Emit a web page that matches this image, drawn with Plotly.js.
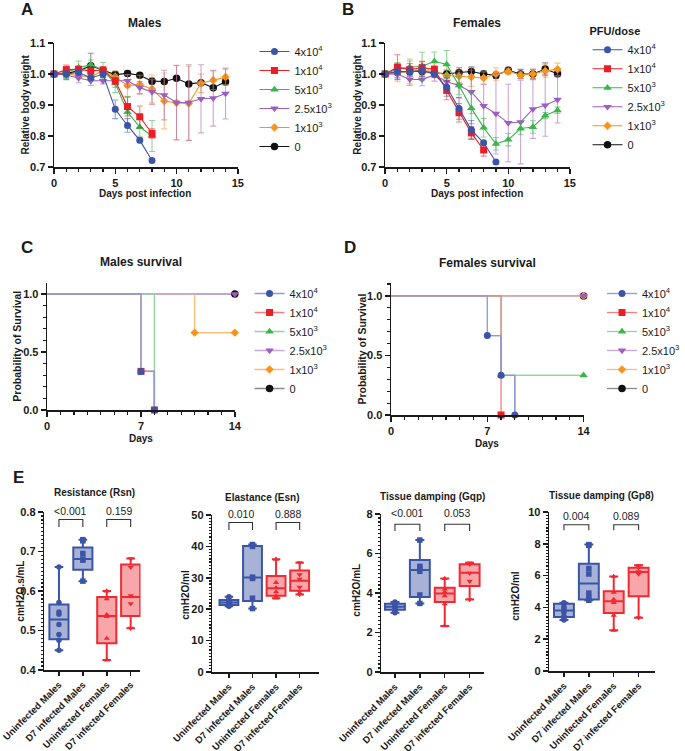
<!DOCTYPE html>
<html>
<head>
<meta charset="utf-8">
<script src="https://cdn.plot.ly/plotly-3.0.1.min.js"></script>
<style>html,body{margin:0;padding:0;background:#fff;}#chart{width:685px;height:751px;}</style>
</head>
<body>
<div id="chart"></div>
<script>
// ---------------- DATA ----------------
const days = [0,1,2,3,4,5,6,7,8,9,10,11,12,13,14];
const doseLabels = ['4x10<sup>4</sup>','1x10<sup>4</sup>','5x10<sup>3</sup>','2.5x10<sup>3</sup>','1x10<sup>3</sup>','0'];

// Panel A – males relative body weight (mean, SD)
const m4e4   = [1.0,1.0,1.005,0.988,0.999,0.886,0.834,0.786,0.721];
const m4e4sd = [0,0.01,0.01,0.01,0.01,0.03,0.022,0.008,0.005];
const m1e4   = [1.0,1.014,1.015,1.01,1.013,0.978,0.895,0.862,0.808];
const m1e4sd = [0,0.015,0.01,0.01,0.005,0.01,0.03,0.035,0.015];
const m5e3   = [1.0,1.005,1.02,1.03,1.012,0.97,0.877,0.829,0.80];
const m5e3sd = [0,0.02,0.022,0.015,0.025,0.03,0.05,0.03,0.05];
const m25e3  = [1.0,0.997,0.987,0.978,0.978,0.977,0.978,0.956,0.942,0.932,0.908,0.908,0.92,0.922,0.937];
const m25e3sd= [0,0.01,0.015,0.015,0.01,0.02,0.02,0.02,0.04,0.08,0.12,0.122,0.11,0.09,0.082];
const m1e3   = [1.0,1.0,0.995,0.99,1.012,0.99,0.963,0.966,0.952,0.913,0.907,0.905,0.97,0.98,0.99];
const m1e3sd = [0,0.01,0.01,0.01,0.01,0.02,0.035,0.03,0.045,0.09,0.12,0.12,0.03,0.03,0.025];
const m0     = [1.0,1.002,1.01,1.027,1.012,0.998,1.002,0.996,0.977,0.976,0.986,0.968,0.972,0.956,0.975];
const m0sd   = [0,0.02,0.015,0.04,0.01,0.01,0.008,0.008,0.01,0.005,0.005,0.005,0.005,0.005,0.01];

// Panel B – females relative body weight (mean, SD)
const f4e4   = [1.0,1.008,1.008,1.011,0.999,0.958,0.889,0.82,0.778,0.716];
const f4e4sd = [0,0.02,0.015,0.02,0.01,0.03,0.035,0.03,0.005,0.005];
const f1e4   = [1.0,1.022,1.014,1.02,1.015,0.947,0.875,0.81,0.755];
const f1e4sd = [0,0.04,0.02,0.02,0.01,0.03,0.03,0.02,0.02];
const f5e3   = [1.0,1.016,1.022,1.025,1.041,1.031,0.963,0.89,0.827,0.775,0.788,0.824,0.829,0.866,0.883];
const f5e3sd = [0,0.02,0.02,0.045,0.03,0.045,0.03,0.05,0.03,0.02,0.02,0.02,0.02,0.01,0.01];
const f25e3  = [1.0,0.999,0.983,0.982,0.997,0.975,0.963,0.942,0.897,0.872,0.842,0.845,0.887,0.899,0.917];
const f25e3sd= [0,0.015,0.02,0.02,0.02,0.02,0.04,0.07,0.07,0.13,0.125,0.135,0.095,0.1,0.075];
const f1e3   = [1.0,1.005,1.008,1.012,1.008,0.995,0.993,0.99,0.987,1.0,1.008,0.997,1.0,1.01,1.015];
const f1e3sd = [0,0.03,0.04,0.03,0.02,0.02,0.02,0.03,0.02,0.02,0.01,0.01,0.015,0.02,0.02];
const f0     = [1.0,1.006,1.008,1.008,1.005,1.0,1.005,1.008,1.0,0.996,1.012,1.0,1.0,1.016,1.001];
const f0sd   = [0,0.01,0.01,0.015,0.01,0.01,0.015,0.015,0.01,0.01,0.01,0.015,0.015,0.02,0.01];

// Panel C – males survival (step points)
const cX = [[0,7,8],[0,7,8],[0,8],[0,14],[0,11,14],[0,14]];
const cY = [[1,0.333,0],[1,0.333,0],[1,0],[1,1],[1,0.667,0.667],[1,1]];
// Panel D – females survival
const dX = [[0,7,8,9],[0,8],[0,8,14],[0,14],[0,14],[0,14]];
const dY = [[1,0.667,0.333,0],[1,0],[1,0.333,0.333],[1,1],[1,1],[1,1]];

// Panel E – lung mechanics
const groups = ['Uninfected Males','D7 infected Males','Uninfected Females','D7 infected Females'];
const rsnPoints = [[0.661,0.571,0.547,0.541,0.515,0.49,0.475,0.45],[0.730,0.727,0.695,0.681,0.678,0.625],[0.600,0.58,0.54,0.535,0.48,0.425],[0.682,0.660,0.588,0.568,0.506]];
const rsnLow = [0.45,0.625,0.425,0.506], rsnQ1 = [0.478,0.654,0.468,0.537], rsnMed = [0.528,0.681,0.537,0.585], rsnQ3 = [0.566,0.71,0.585,0.667], rsnHigh = [0.661,0.730,0.600,0.682];
const esnPoints = [[24.0,23.2,22.6,22.1,21.8,21.5,21.2,20.9],[40.6,40.0,30.2,29.8,23.5,20.2],[35.9,28.5,26.8,25.5,24.2,23.5],[34.8,31.0,29.6,27.0,25.5,24.7]];
const esnLow = [20.9,20.2,23.5,24.7], esnQ1 = [21.3,22.6,24.3,25.9], esnMed = [22.1,30.1,26.7,29.1], esnQ3 = [22.9,40.1,30.6,32.3], esnHigh = [24.0,40.6,35.9,34.8];
const gqpPoints = [[3.55,3.48,3.4,3.33,3.28,3.2,3.1,3.0],[6.68,5.35,5.25,5.1,3.9,3.47],[4.73,4.2,4.05,3.85,3.45,2.33],[5.53,5.45,5.0,4.6,3.67]];
const gqpLow = [3.0,3.47,2.33,3.67], gqpQ1 = [3.15,3.8,3.55,4.35], gqpMed = [3.3,5.16,3.97,5.02], gqpQ3 = [3.45,5.67,4.26,5.46], gqpHigh = [3.55,6.68,4.73,5.53];
const gp8Points = [[4.3,4.2,4.0,3.85,3.7,3.45,3.3,3.2],[7.95,7.9,6.45,6.1,4.9,4.6,4.45],[5.95,4.95,4.5,4.3,3.5,2.56],[6.65,6.5,6.25,6.1,3.35]];
const gp8Low = [3.2,4.45,2.56,3.35], gp8Q1 = [3.4,4.49,3.65,4.7], gp8Med = [3.8,5.5,4.38,6.23], gp8Q3 = [4.23,6.75,5.01,6.5], gp8High = [4.3,7.95,5.95,6.65];
const pvalsRsn = ['<0.001','0.159'], pvalsEsn = ['0.010','0.888'], pvalsGqp = ['<0.001','0.053'], pvalsGp8 = ['0.004','0.089'];

// ---------------- STYLE ----------------
const W = 685, H = 751;
const FONT = 'Liberation Sans, Arial, sans-serif';
const INK = '#1a1a1a';
const colors = ['#3b54a5','#ee1d25','#39b54a','#9b5fc0','#f7931e','#111111'];
const errColors = ['rgba(59,84,165,0.55)','rgba(238,29,37,0.55)','rgba(57,181,74,0.55)','rgba(155,95,192,0.55)','rgba(247,147,30,0.55)','rgba(60,60,60,0.55)'];
const lightColors = ['#8e9bd4','#f37f84','#8fd69a','#c8a6de','#f9bd78','#8a8a8a'];
const symbols = ['circle','square','triangle-up','triangle-down','diamond','circle'];
const symSize = [7,7,7.5,7.5,6.5,7.5];
const boxLine = ['#3b54a5','#3b54a5','#ef2a33','#ef2a33'];
const boxFill = ['rgba(59,84,165,0.45)','rgba(59,84,165,0.45)','rgba(239,42,51,0.42)','rgba(239,42,51,0.42)'];
const ptSym = ['circle','square','triangle-up','triangle-down'];

function dxp(a,b){return [a/W, b/W];}
function dyp(t,b){return [1-b/H, 1-t/H];}

const axBase = {showline:true, linecolor:INK, linewidth:1.5, ticks:'outside', ticklen:5, tickwidth:1.5, tickcolor:INK,
  showgrid:false, zeroline:false, fixedrange:true, tickfont:{family:FONT, size:11, weight:'bold', color:INK}};
function minor(dt, len){return {ticks:'outside', dtick:dt, ticklen:len, tickwidth:1.2, tickcolor:INK, showgrid:false};}

const traces = [];

// Weight panels
function addWeight(series, sds, xa, ya, leg){
  for (let i = series.length-1; i >= 0; i--){
    const y = series[i];
    traces.push({type:'scatter', mode:'lines+markers', x:days.slice(0,y.length), y:y,
      error_y:{type:'data', array:sds[i], visible:true, color:errColors[i], thickness:1.1, width:3},
      line:{color:colors[i], width:1.1}, marker:{symbol:symbols[i], size:symSize[i], color:colors[i]},
      name:doseLabels[i], legend:leg, legendrank:i+1, cliponaxis:false, xaxis:xa, yaxis:ya, hoverinfo:'skip'});
  }
}
addWeight([m4e4,m1e4,m5e3,m25e3,m1e3,m0],[m4e4sd,m1e4sd,m5e3sd,m25e3sd,m1e3sd,m0sd],'x','y','legend');
addWeight([f4e4,f1e4,f5e3,f25e3,f1e3,f0],[f4e4sd,f1e4sd,f5e3sd,f25e3sd,f1e3sd,f0sd],'x2','y2','legend2');

// Survival panels
function addSurv(X, Y, xa, ya, leg){
  for (let i = X.length-1; i >= 0; i--){
    traces.push({type:'scatter', mode:'lines', x:X[i], y:Y[i], line:{color:lightColors[i], width:1.3, shape:'hv'},
      showlegend:false, cliponaxis:false, xaxis:xa, yaxis:ya, hoverinfo:'skip'});
  }
  for (let i = X.length-1; i >= 0; i--){
    traces.push({type:'scatter', mode:'lines+markers', x:X[i].slice(1), y:Y[i].slice(1),
      line:{color:lightColors[i], width:1.3, shape:'hv'}, marker:{symbol:symbols[i], size:symSize[i], color:colors[i]},
      name:doseLabels[i], legend:leg, legendrank:i+1, cliponaxis:false, xaxis:xa, yaxis:ya, hoverinfo:'skip'});
  }
}
addSurv(cX, cY, 'x3', 'y3', 'legend3');
addSurv(dX, dY, 'x4', 'y4', 'legend4');

// Box panels geometry
const eX = [[45,143,60,133],[216,325,233,305],[388,493,402,478],[559,667,574,650]];
const eY = [[512,670],[515,672],[514,672],[512,671]];
const eRange = [[0.4,0.8],[0,50],[0,8],[0,10]];
const eDtick = [0.1,10,2,2], eMinor = [0.01,1,0.2,0.2], eFmt = ['.1f','d','d','d'];

const ePanels = [
  {pts:rsnPoints, low:rsnLow, q1:rsnQ1, med:rsnMed, q3:rsnQ3, high:rsnHigh, p:pvalsRsn, br:[0.762,0.781,0.803]},
  {pts:esnPoints, low:esnLow, q1:esnQ1, med:esnMed, q3:esnQ3, high:esnHigh, p:pvalsEsn, br:[45.2,47.6,50.2]},
  {pts:gqpPoints, low:gqpLow, q1:gqpQ1, med:gqpMed, q3:gqpQ3, high:gqpHigh, p:pvalsGqp, br:[7.14,7.48,8.03]},
  {pts:gp8Points, low:gp8Low, q1:gp8Q1, med:gp8Med, q3:gp8Q3, high:gp8High, p:pvalsGp8, br:[8.85,9.2,9.72]}
];
const annotations = [];
ePanels.forEach((P, k) => {
  const xa = 'x'+(k+5), ya = 'y'+(k+5);
  for (let g = 0; g < 4; g++){
    traces.push({type:'box', x:[g], q1:[P.q1[g]], median:[P.med[g]], q3:[P.q3[g]], lowerfence:[P.low[g]], upperfence:[P.high[g]],
      width:0.8, whiskerwidth:0.45, line:{color:boxLine[g], width:2}, fillcolor:boxFill[g], boxpoints:false,
      showlegend:false, xaxis:xa, yaxis:ya, hoverinfo:'skip'});
    traces.push({type:'scatter', mode:'markers', x:P.pts[g].map(() => g), y:P.pts[g],
      marker:{symbol:ptSym[g], size:5.5, color:boxLine[g]}, showlegend:false, cliponaxis:false, xaxis:xa, yaxis:ya, hoverinfo:'skip'});
  }
  // map a data value on this panel's y scale to paper coordinates (labels sit above the axis range)
  const [r0, r1] = eRange[k];
  const [d0, d1] = dyp(eY[k][0], eY[k][1]);
  const toPaper = v => d0 + (v - r0) / (r1 - r0) * (d1 - d0);
  [[0,1],[2,3]].forEach((pr, j) => {
    traces.push({type:'scatter', mode:'lines', x:[pr[0],pr[0],pr[1],pr[1]], y:[P.br[0],P.br[1],P.br[1],P.br[0]],
      line:{color:'#333', width:1.1}, showlegend:false, cliponaxis:false, xaxis:xa, yaxis:ya, hoverinfo:'skip'});
    annotations.push({text:P.p[j], x:(pr[0]+pr[1])/2, y:toPaper(P.br[2]), xref:xa, yref:'paper', showarrow:false,
      xanchor:'center', yanchor:'middle', font:{family:FONT, size:10.5, color:'#222'}});
  });
});

// ---------------- LAYOUT ----------------
function ann(text, x, y, size, bold, angle){
  annotations.push({text:text, x:x/W, y:1-y/H, xref:'paper', yref:'paper', showarrow:false, xanchor:'center', yanchor:'middle',
    textangle:angle||0, font:{family:FONT, size:size, weight:bold?'bold':'normal', color:INK}});
}
ann('A',27.5,9.5,17,true); ann('B',354,9.5,17,true); ann('C',27.5,247,17,true); ann('D',356,247,17,true); ann('E',19,477,17,true);
ann('Males',148,23,12,true); ann('Females',486,23,12,true);
ann('Males survival',143.5,262,12,true); ann('Females survival',496,263,12,true);
ann('Relative body weight',25,105,10,true,-90); ann('Days post infection',148,193,10,true);
ann('Relative body weight',363,105,10,true,-90); ann('Days post infection',486,193,10,true);
ann('Probability of Survival',17,346,10.5,true,-90); ann('Days',143.5,438,10,true);
ann('Probability of Survival',368,349,10.5,true,-90); ann('Days',496,443,10,true);
ann('Resistance (Rsn)',96,493,10,true); ann('Elastance (Esn)',267,497,10,true);
ann('Tissue damping (Gqp)',440,496,10,true); ann('Tissue damping (Gp8)',612,495,10,true);
ann('cmH2O.s/mL',20,591,10,true,-90); ann('cmH2O/ml',188,595,10,true,-90);
ann('cmH2O/mL',362,590,10,true,-90); ann('cmH2O/ml',524,596,10,true,-90);

const legBase = {bgcolor:'rgba(0,0,0,0)', borderwidth:0, xanchor:'left', yanchor:'top', xref:'paper', yref:'paper',
  font:{family:FONT, size:11, color:INK}, tracegroupgap:0, itemclick:false, itemdoubleclick:false};

const layout = {
  width:W, height:H, margin:{l:0,r:0,t:0,b:0}, paper_bgcolor:'#fff', plot_bgcolor:'#fff', showlegend:true,
  font:{family:FONT, color:INK},
  xaxis:  Object.assign({}, axBase, {domain:dxp(55,242), range:[0,15], tick0:0, dtick:5, minor:minor(1,3), anchor:'y'}),
  yaxis:  Object.assign({}, axBase, {domain:dyp(43,167), range:[0.7,1.1], tick0:0.7, dtick:0.1, tickformat:'.1f', anchor:'x'}),
  xaxis2: Object.assign({}, axBase, {domain:dxp(392,580), range:[0,15], tick0:0, dtick:5, minor:minor(1,3), anchor:'y2'}),
  yaxis2: Object.assign({}, axBase, {domain:dyp(43,167), range:[0.7,1.1], tick0:0.7, dtick:0.1, tickformat:'.1f', anchor:'x2'}),
  xaxis3: Object.assign({}, axBase, {domain:dxp(48,239), range:[0,14], tick0:0, dtick:7, minor:minor(1,3), anchor:'y3'}),
  yaxis3: Object.assign({}, axBase, {domain:dyp(283,410), range:[0,1.095], tick0:0, dtick:0.5, tickformat:'.1f', minor:minor(0.1,3), anchor:'x3'}),
  xaxis4: Object.assign({}, axBase, {domain:dxp(398,594), range:[0,14], tick0:0, dtick:7, minor:minor(1,3), anchor:'y4'}),
  yaxis4: Object.assign({}, axBase, {domain:dyp(283,415), range:[0,1.109], tick0:0, dtick:0.5, tickformat:'.1f', minor:minor(0.1,3), anchor:'x4'}),
  legend:  Object.assign({}, legBase, {x:259/W, y:1-37/H}),
  legend2: Object.assign({}, legBase, {x:598/W, y:1-21/H, title:{text:'PFU/dose', side:'top', font:{family:FONT, size:11, weight:'bold', color:INK}}}),
  legend3: Object.assign({}, legBase, {x:254/W, y:1-279/H}),
  legend4: Object.assign({}, legBase, {x:613/W, y:1-279/H}),
  annotations: annotations
};
for (let k = 0; k < 4; k++){
  const [l, r, c0, c3] = eX[k];
  const sp = (c3 - c0)/3;
  layout['xaxis'+(k+5)] = Object.assign({}, axBase, {domain:dxp(l,r), range:[-(c0-l)/sp, 3+(r-c3)/sp],
    tickmode:'array', tickvals:[0,1,2,3], ticktext:groups, tickangle:-45, anchor:'y'+(k+5), ticklen:4,
    ticklabeloverflow:'allow', tickfont:{family:FONT, size:9.5, weight:'bold', color:INK}});
  layout['yaxis'+(k+5)] = Object.assign({}, axBase, {domain:dyp(eY[k][0],eY[k][1]), range:eRange[k], tick0:eRange[k][0],
    dtick:eDtick[k], tickformat:eFmt[k], minor:minor(eMinor[k],2), anchor:'x'+(k+5)});
}

Plotly.newPlot('chart', traces, layout, {staticPlot:true, displayModeBar:false});
</script>
</body>
</html>
